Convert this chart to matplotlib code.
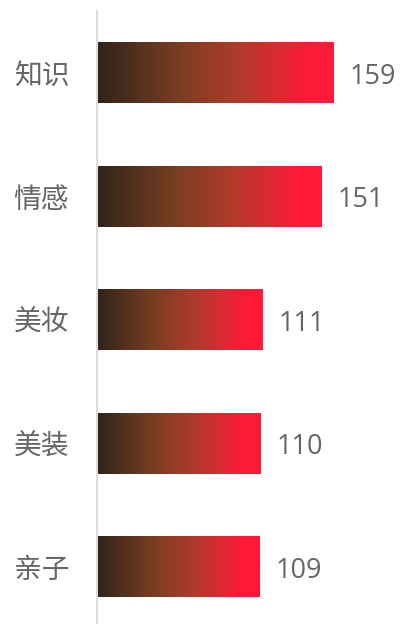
import numpy as np
import matplotlib
matplotlib.use("Agg")
import matplotlib.pyplot as plt
from matplotlib.colors import LinearSegmentedColormap

plt.rcParams['font.family'] = ['Noto Sans CJK SC', 'DejaVu Sans']

categories = ["知识", "情感", "美妆", "美装", "亲子"]
values = [159, 151, 111, 110, 109]

# dark brown -> red, flat red at the end
grad = LinearSegmentedColormap.from_list("brownred", [
    (0.0, "#30241a"),
    (0.35, "#7a3e22"),
    (0.6, "#b03b2b"),
    (0.9, "#ff1a38"),
    (1.0, "#ff1a38"),
])

fig = plt.figure(figsize=(4.0, 6.24), dpi=100)
ax = fig.add_axes([97 / 400, 0, 303 / 400, 613 / 624])

ypos = np.arange(len(categories))
bars = ax.barh(ypos, values, height=0.494, color="none", edgecolor="none")

g = np.linspace(0, 1, 256).reshape(1, -1)
for bar, v in zip(bars, values):
    y0 = bar.get_y()
    im = ax.imshow(g, cmap=grad, aspect="auto",
                   extent=[0, v, y0 + bar.get_height(), y0], zorder=2)
    im.set_clip_path(bar)
    ax.annotate(str(v), (v, bar.get_y() + bar.get_height() / 2),
                xytext=(11.5, -3), textcoords="offset points",
                ha="left", va="center", fontsize=19.5, color="#666666",
                family=["Open Sans", "DejaVu Sans"])

ax.set_xlim(0, 203.4)
ax.set_ylim(4.466, -0.5)
ax.set_yticks(ypos)
ax.set_yticklabels(categories, fontsize=20, color="#666666")
ax.tick_params(axis="y", length=0, pad=20)
ax.set_xticks([])

for s in ["top", "right", "bottom"]:
    ax.spines[s].set_visible(False)
ax.spines["left"].set_color("#dddddd")
ax.spines["left"].set_linewidth(1.5)

fig.savefig("out.png", dpi=100)
